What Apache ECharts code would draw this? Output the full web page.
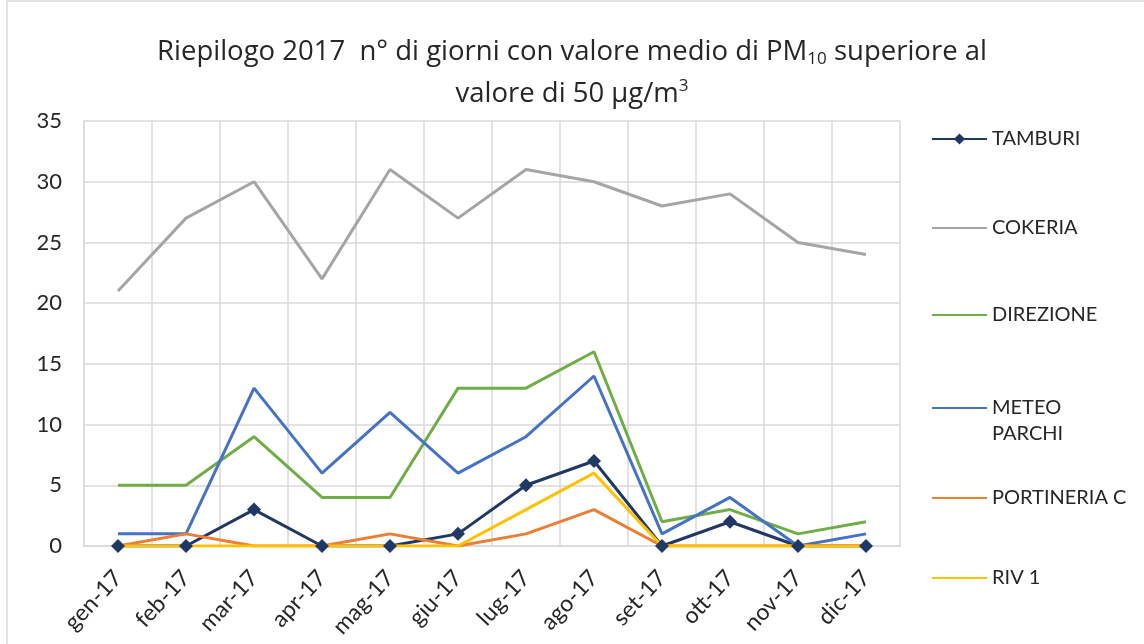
<!DOCTYPE html>
<html>
<head>
<meta charset="utf-8">
<script src="https://cdn.jsdelivr.net/npm/echarts@6/dist/echarts.min.js"></script>
<style>
  html, body { margin: 0; padding: 0; background: #fff; }
  #main { width: 1144px; height: 644px; }
</style>
</head>
<body>
<div id="main"></div>
<script>
// mesi
var months = ['gen-17', 'feb-17', 'mar-17', 'apr-17', 'mag-17', 'giu-17', 'lug-17', 'ago-17', 'set-17', 'ott-17', 'nov-17', 'dic-17'];
// n° giorni per centralina
var tamburi = [0, 0, 3, 0, 0, 1, 5, 7, 0, 2, 0, 0];
var cokeria = [21, 27, 30, 22, 31, 27, 31, 30, 28, 29, 25, 24];
var direzione = [5, 5, 9, 4, 4, 13, 13, 16, 2, 3, 1, 2];
var meteoParchi = [1, 1, 13, 6, 11, 6, 9, 14, 1, 4, 0, 1];
var portineriaC = [0, 1, 0, 0, 1, 0, 1, 3, 0, 0, 0, 0];
var riv1 = [0, 0, 0, 0, 0, 0, 3, 6, 0, 0, 0, 0];

var FONT = 'Lato';
var chart = echarts.init(document.getElementById('main'));

function line(name, data, color, marker) {
  return {
    name: name,
    type: 'line',
    data: data,
    symbol: marker ? 'diamond' : 'none',
    symbolSize: 14,
    showSymbol: !!marker,
    lineStyle: { width: 3, color: color },
    itemStyle: { color: color },
    emphasis: { disabled: true }
  };
}

// una legenda per voce, per avere la spaziatura dell'originale
var legendTops = [121, 210, 297, 364, 480, 560];
var names = ['TAMBURI', 'COKERIA', 'DIREZIONE', 'METEO PARCHI', 'PORTINERIA C', 'RIV 1'];
var legends = names.map(function (n, i) {
  return {
    data: [n],
    left: 926,
    top: legendTops[i],
    itemWidth: 55,
    itemHeight: 14,
    selectedMode: false,
    itemStyle: n === 'TAMBURI' ? {} : { opacity: 0 },
    formatter: function (name) {
      return name === 'METEO PARCHI' ? ' \nMETEO\nPARCHI' : name;
    },
    textStyle: {
      fontFamily: FONT, fontSize: 20, color: '#262626', lineHeight: 26
    }
  };
});

var option = {
  backgroundColor: '#ffffff',
  animation: false,
  // cornice dell'area grafico
  graphic: [{
    type: 'rect',
    shape: { x: 7, y: 1, width: 1200, height: 700 },
    style: { fill: 'none', stroke: '#d9d9d9', lineWidth: 1.5 },
    silent: true
  }],
  title: {
    left: 'center',
    top: 26,
    text: '{a|Riepilogo 2017  n° di giorni con valore medio di PM}{sub|10}{a| superiore al}\n{a|valore di 50 µg/m}{sup|3}',
    textStyle: {
      fontWeight: 'normal',
      rich: {
        a: { fontFamily: 'Open Sans', fontSize: 27.5, color: '#262626', lineHeight: 42 },
        sub: { fontFamily: 'Open Sans', fontSize: 17, color: '#262626', padding: [15, 0, 0, 0] },
        sup: { fontFamily: 'Open Sans', fontSize: 17, color: '#262626', padding: [0, 0, 15, 0] }
      }
    }
  },
  legend: legends,
  grid: { left: 84, right: 244, top: 121, bottom: 98, containLabel: false },
  xAxis: {
    type: 'category',
    data: months,
    boundaryGap: true,
    axisLine: { lineStyle: { color: '#d9d9d9', width: 1.5 } },
    axisTick: { show: false },
    splitLine: { show: true, lineStyle: { color: '#d9d9d9', width: 1.5 } },
    axisLabel: {
      rotate: 47, interval: 0, margin: 28,
      fontFamily: FONT, fontSize: 23, color: '#262626'
    }
  },
  yAxis: {
    type: 'value',
    min: 0, max: 35, interval: 5,
    axisLine: { show: true, lineStyle: { color: '#d9d9d9', width: 1.5 } },
    axisTick: { show: false },
    splitLine: { lineStyle: { color: '#d9d9d9', width: 1.5 } },
    axisLabel: { margin: 22, fontFamily: FONT, fontSize: 22, color: '#262626' }
  },
  series: [
    line('TAMBURI', tamburi, '#1f3864', true),
    line('COKERIA', cokeria, '#a5a5a5'),
    line('DIREZIONE', direzione, '#70ad47'),
    line('METEO PARCHI', meteoParchi, '#4472c4'),
    line('PORTINERIA C', portineriaC, '#ed7d31'),
    line('RIV 1', riv1, '#ffc000')
  ]
};

chart.setOption(option);
</script>
</body>
</html>
